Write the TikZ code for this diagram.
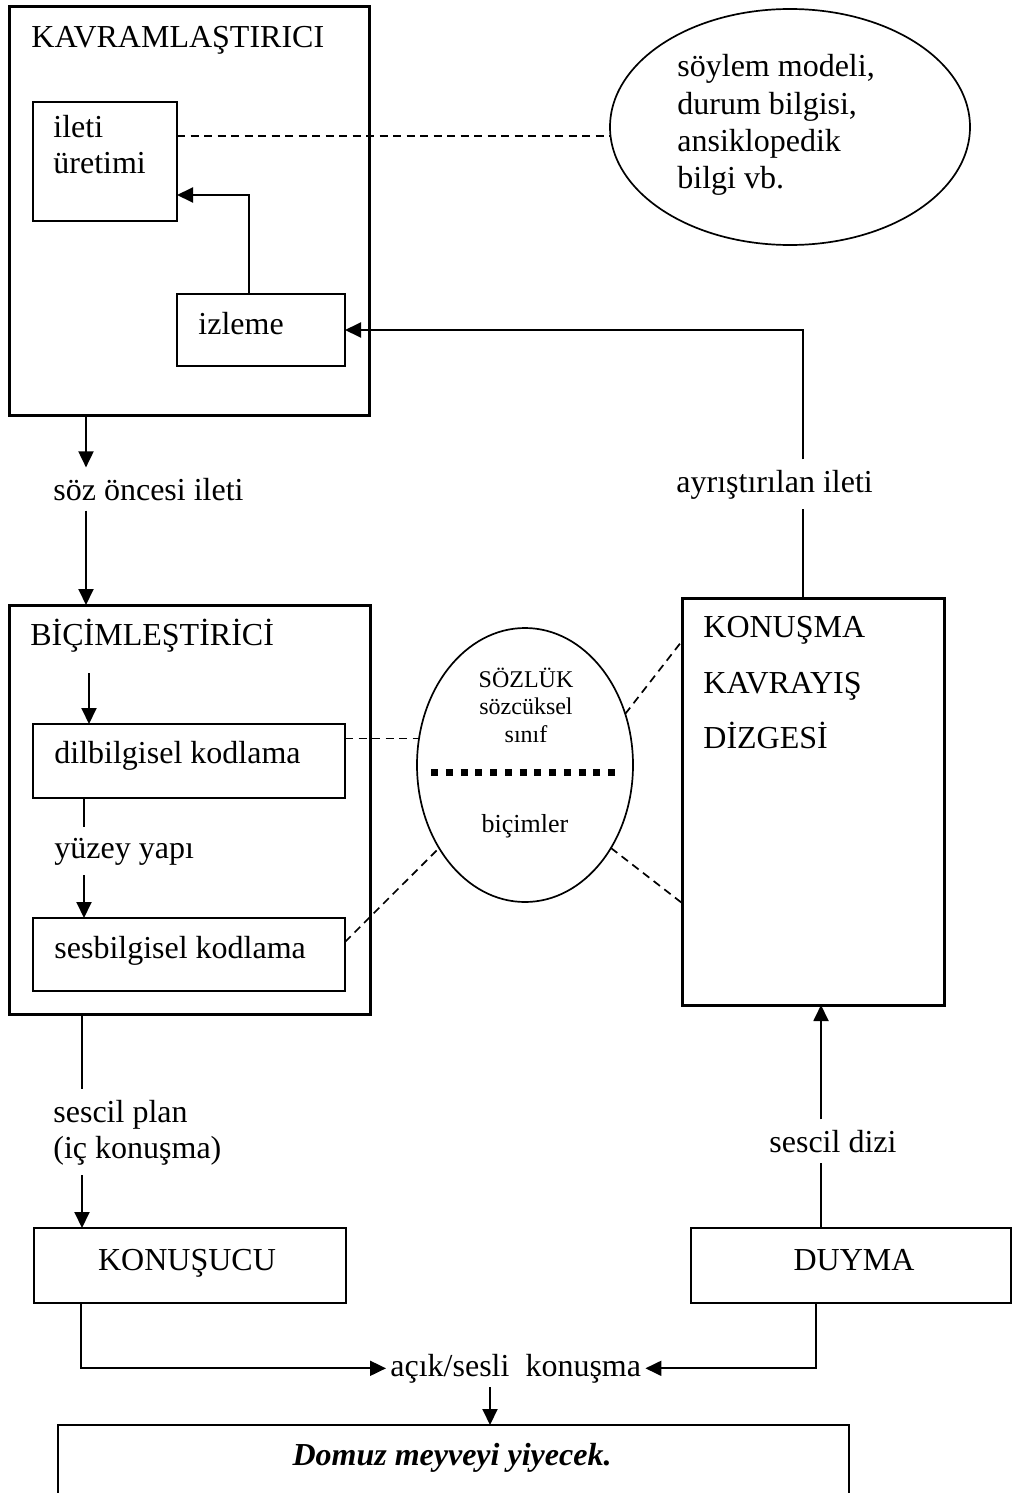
\documentclass[tikz,border=0pt]{standalone}
\usepackage{fontspec}
\setmainfont{Liberation Serif}
\usetikzlibrary{arrows.meta,shapes.geometric}
\begin{document}
\begin{tikzpicture}[x=0.5pt,y=-0.5pt,
  bigbox/.style={draw, line width=1.5pt, inner sep=0pt, outer sep=0pt},
  midbox/.style={draw, line width=1.2pt, inner sep=0pt, outer sep=0pt},
  smallbox/.style={draw, line width=0.9pt, inner sep=0pt, outer sep=0pt},
  oval/.style={draw, ellipse, line width=0.85pt, inner sep=0pt, outer sep=0pt},
  txt/.style={font=\fontsize{16}{19}\selectfont, inner sep=0pt, anchor=base west},
  ctxt/.style={font=\fontsize{16}{19}\selectfont, inner sep=0pt, anchor=base},
  lbl/.style={font=\fontsize{16}{19}\selectfont, inner xsep=1pt, inner ysep=5pt, anchor=base west},
  small/.style={font=\fontsize{12}{14}\selectfont, inner sep=0pt, anchor=base},
  arr/.style={line width=0.95pt, -{Triangle[length=8pt,width=7.5pt]}},
  plain/.style={line width=0.95pt},
  dashline/.style={line width=0.85pt, dash pattern=on 4pt off 2.75pt},
]
\useasboundingbox (0,0) rectangle (1013,1493);
\clip (0,0) rectangle (1013,1493);

% boxes
\node[bigbox, minimum width=180pt, minimum height=204pt] (kavr) at (189,211) {};
\node[smallbox, minimum width=72pt, minimum height=59.5pt] (ileti) at (105,161.5) {};
\node[smallbox, minimum width=84pt, minimum height=36pt] (izleme) at (261,330) {};
\node[oval, minimum width=180pt, minimum height=118pt] (bilgi) at (790,127) {};
\node[bigbox, minimum width=180.5pt, minimum height=204.5pt] (bicim) at (189.5,809.5) {};
\node[midbox, minimum width=156pt, minimum height=37pt] (dil) at (189,761) {};
\node[midbox, minimum width=156pt, minimum height=36.5pt] (ses) at (189,954.5) {};
\node[oval, minimum width=108pt, minimum height=137pt] (sozluk) at (525,765) {};
\node[bigbox, minimum width=131pt, minimum height=203.5pt] (kavray) at (813,801.5) {};
\node[midbox, minimum width=156pt, minimum height=37.5pt] (konusucu) at (190,1265.5) {};
\node[midbox, minimum width=160pt, minimum height=37.5pt] (duyma) at (851,1265.5) {};
\node[midbox, minimum width=395.5pt, minimum height=50pt] (domuz) at (453.5,1475) {};

% texts
\node[txt] (t1) at (31,48) {KAVRAMLAŞTIRICI};
\node[txt] (t2) at (53,138) {ileti};
\node[txt] (t3) at (53,173) {üretimi};
\node[txt] (t4) at (198,334) {izleme};
\node[txt] (b1) at (677,77) {söylem modeli,};
\node[txt] (b2) at (677,114) {durum bilgisi,};
\node[txt] (b3) at (677,151) {ansiklopedik};
\node[txt] (b4) at (677,188) {bilgi vb.};
\node[lbl] (soz) at (51,500) {söz öncesi ileti};
\node[lbl] (ayr) at (674,492) {ayrıştırılan ileti};
\node[txt] (t5) at (30,645) {BİÇİMLEŞTİRİCİ};
\node[txt] (t6) at (54,763) {dilbilgisel kodlama};
\node[lbl] (yuzey) at (52,858) {yüzey yapı};
\node[txt] (t7) at (54,958) {sesbilgisel kodlama};
\node[small] (s1) at (526,687) {SÖZLÜK};
\node[small] (s2) at (526,714) {sözcüksel};
\node[small] (s3) at (526,742) {sınıf};
\node[small, font=\fontsize{13}{15}\selectfont] (s4) at (525,832) {biçimler};
\node[txt] (k1) at (703,637) {KONUŞMA};
\node[txt] (k2) at (703,693) {KAVRAYIŞ};
\node[txt] (k3) at (703,748) {DİZGESİ};
\node[lbl] (plan1) at (51,1122) {sescil plan};
\node[lbl] (plan2) at (51,1158) {(iç konuşma)};
\node[lbl] (dizi) at (767,1152) {sescil dizi};
\node[ctxt] (t8) at (187,1270) {KONUŞUCU};
\node[ctxt] (t9) at (854,1270) {DUYMA};
\node[font=\fontsize{16}{19}\selectfont, inner xsep=2pt, inner ysep=2pt, anchor=base west] (acik) at (386,1376) {açık/sesli\ \ konuşma};
\node[ctxt, font=\fontsize{16}{19}\selectfont\bfseries\itshape] (t10) at (452,1465) {Domuz meyveyi yiyecek.};

% column coordinates
\coordinate (cL) at (86,0);
\coordinate (cI) at (249,195);
\coordinate (cF) at (803,0);
\coordinate (d1) at (0,136);
\coordinate (b0) at (89,673);
\coordinate (cY) at (84,0);
\coordinate (cB) at (82,0);
\coordinate (cR) at (821,0);
\coordinate (cK) at (81,0);
\coordinate (cD) at (816,0);
\coordinate (cA) at (490,0);

% connectors
\draw[arr] (kavr.south -| cL) -- (soz.north -| cL);
\draw[arr] (soz.south -| cL) -- (bicim.north -| cL);
\draw[arr] (izleme.north -| cI) |- (ileti.east |- cI);
\draw[plain] (kavray.north -| cF) -- (ayr.south -| cF);
\draw[arr] (ayr.north -| cF) |- (izleme.east);
\draw[dashline] (ileti.east |- d1) -- (bilgi.west |- d1);

\draw[arr] (b0) -- (dil.north -| b0);
\draw[plain] (dil.south -| cY) -- (yuzey.north -| cY);
\draw[arr] (yuzey.south -| cY) -- (ses.north -| cY);

\draw[dashline] (dil.east |- sozluk.166) -- (sozluk.166);
\draw[dashline] ([yshift=6.25pt]ses.east) -- (sozluk.224);
\draw[dashline] (sozluk.27) -- ([yshift=-21.5pt]kavray.north west);
\draw[dashline] (sozluk.316) -- ([yshift=-152.5pt]kavray.north west);
\draw[line width=3.5pt, dash pattern=on 3.5pt off 3.875pt]
  ([shift={(-47pt,-3.5pt)}]sozluk.center) -- ([shift={(45pt,-3.5pt)}]sozluk.center);

\draw[plain] (bicim.south -| cB) -- (plan1.north -| cB);
\draw[arr] (plan2.south -| cB) -- (konusucu.north -| cB);
\draw[plain] (duyma.north -| cR) -- (dizi.south -| cR);
\draw[arr] (dizi.north -| cR) -- (kavray.south -| cR);
\draw[arr] (konusucu.south -| cK) |- (acik.west);
\draw[arr] (duyma.south -| cD) |- (acik.east);
\draw[arr] (acik.south -| cA) -- (domuz.north -| cA);
\end{tikzpicture}
\end{document}
